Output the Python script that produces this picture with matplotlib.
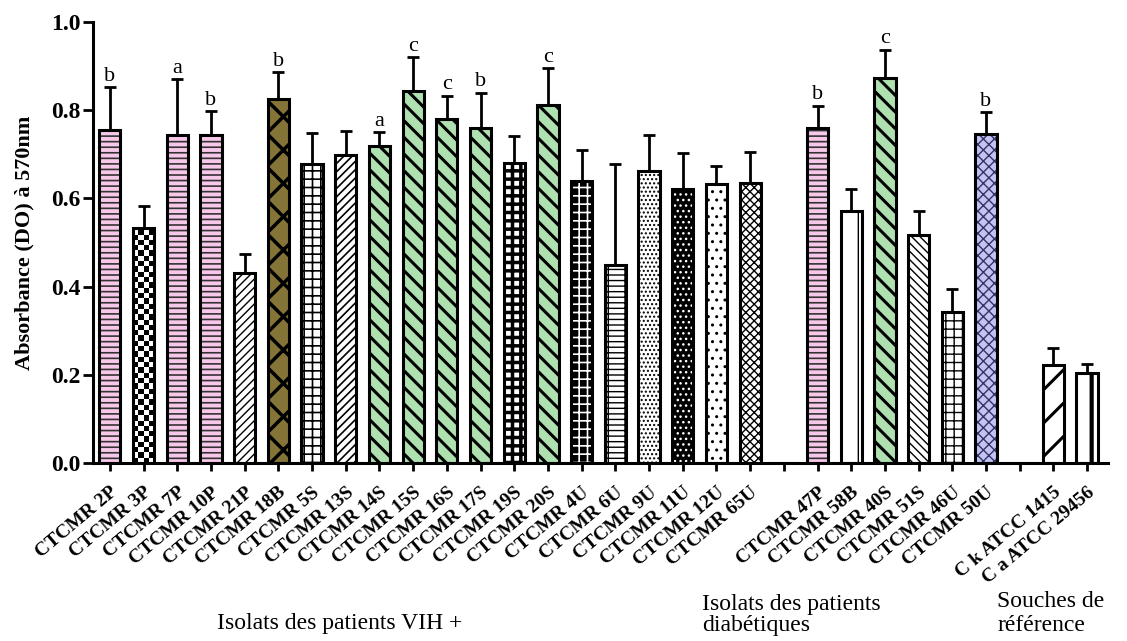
import numpy as np
import matplotlib
matplotlib.use("Agg")
import matplotlib.pyplot as plt

plt.rcParams["font.family"] = ["Liberation Serif", "DejaVu Serif"]

# data
hiv_names = ["CTCMR 2P", "CTCMR 3P", "CTCMR 7P", "CTCMR 10P", "CTCMR 21P",
             "CTCMR 18B", "CTCMR 5S", "CTCMR 13S", "CTCMR 14S", "CTCMR 15S",
             "CTCMR 16S", "CTCMR 17S", "CTCMR 19S", "CTCMR 20S", "CTCMR 4U",
             "CTCMR 6U", "CTCMR 9U", "CTCMR 11U", "CTCMR 12U", "CTCMR 65U"]
hiv_means = [0.755, 0.533, 0.744, 0.744, 0.430, 0.826, 0.678, 0.698, 0.719,
             0.844, 0.780, 0.760, 0.680, 0.812, 0.640, 0.449, 0.661, 0.621,
             0.632, 0.636]
hiv_errs = [0.098, 0.049, 0.126, 0.054, 0.044, 0.060, 0.071, 0.055, 0.031,
            0.077, 0.053, 0.080, 0.061, 0.084, 0.070, 0.230, 0.082, 0.082,
            0.042, 0.069]
hiv_letters = ["b", "", "a", "b", "", "b", "", "", "a", "c", "c", "b", "",
               "c", "", "", "", "", "", ""]

diab_names = ["CTCMR 47P", "CTCMR 58B", "CTCMR 40S", "CTCMR 51S",
              "CTCMR 46U", "CTCMR 50U"]
diab_means = [0.760, 0.572, 0.874, 0.517, 0.342, 0.745]
diab_errs = [0.050, 0.050, 0.063, 0.054, 0.052, 0.050]
diab_letters = ["b", "", "c", "", "", "b"]

ref_names = ["C k ATCC 1415", "C a ATCC 29456"]
ref_means = [0.222, 0.203]
ref_errs = [0.039, 0.022]
ref_letters = ["", ""]

# styles: (face colour, hatch, hatch colour, hatch width)
PINK = "#f8c8ea"
GREEN = "#aee0b0"
OLIVE = "#857437"
LAV = "#c3c3f3"
hiv_styles = [
    (PINK, "---", "#333333", 1.2),
    ("white", "checker", "black", 1.0),
    (PINK, "---", "#333333", 1.2),
    (PINK, "---", "#333333", 1.2),
    ("white", "////", "black", 1.0),
    (OLIVE, "x", "black", 2.5),
    ("white", "++", "black", 1.2),
    ("white", "////", "black", 1.2),
    (GREEN, "\\\\", "black", 2.2),
    (GREEN, "\\\\", "black", 2.2),
    (GREEN, "\\\\", "black", 2.2),
    (GREEN, "\\\\", "black", 2.2),
    ("white", "++", "black", 2.5),
    (GREEN, "\\\\", "black", 2.2),
    ("black", "++", "white", 1.2),
    ("white", "---|", "black", 1.0),
    ("white", "....", "black", 1.0),
    ("black", "...", "white", 1.0),
    ("white", "..", "black", 1.0),
    ("white", "xxxx", "black", 1.0),
]
diab_styles = [
    (PINK, "---", "#333333", 1.2),
    ("white", "|", "black", 1.0),
    (GREEN, "\\\\", "black", 2.2),
    ("white", "\\\\\\\\", "black", 1.0),
    ("white", "++", "black", 1.0),
    (LAV, "xxx", "#333366", 1.0),
]
ref_styles = [
    ("white", "/", "black", 2.2),
    ("white", "|", "black", 3.0),
]

groups = [(hiv_names, hiv_means, hiv_errs, hiv_letters, hiv_styles),
          (diab_names, diab_means, diab_errs, diab_letters, diab_styles),
          (ref_names, ref_means, ref_errs, ref_letters, ref_styles)]

fig = plt.figure(figsize=(11.27, 6.41), dpi=100)
ax = fig.add_axes([93 / 1127, 1 - 463 / 641, (1108 - 93) / 1127, (463 - 22) / 641])

width = 0.63
tick_pos, tick_lab = [], []
pos = 0
for gi, (names, means, errs, letters, styles) in enumerate(groups):
    if gi > 0:
        tick_pos.append(pos)
        tick_lab.append("")
        pos += 1
    for name, m, e, let, (fc, hatch, hc, hlw) in zip(names, means, errs, letters, styles):
        if hatch == "checker":
            fill = ax.bar(pos, m, width, color=fc, linewidth=0, zorder=1)[0]
            nrows = int(np.ceil(m / 0.012))
            board = (np.add.outer(np.arange(nrows), np.arange(4)) % 2).astype(float)
            im = ax.imshow(board, cmap="gray", extent=(pos - width / 2, pos + width / 2, 0, nrows * 0.012),
                           origin="lower", aspect="auto", interpolation="nearest", zorder=1.5)
            im.set_clip_path(fill)
        else:
            fill = ax.bar(pos, m, width, color=fc, edgecolor=hc, hatch=hatch,
                          linewidth=0, zorder=1)[0]
            if hasattr(fill, "set_hatch_linewidth"):
                fill.set_hatch_linewidth(hlw)
        ax.bar(pos, m, width, fill=False, edgecolor="black", linewidth=2.2, zorder=2)
        ax.errorbar(pos, m, yerr=[[0], [e]], fmt="none", ecolor="black",
                    elinewidth=2, capsize=4.5, capthick=2, zorder=3)
        if let:
            ax.text(pos, m + e + 0.003, let, ha="center", va="bottom", fontsize=16)
        tick_pos.append(pos)
        tick_lab.append(name)
        pos += 1

ax.set_xlim(-0.5, 29.62)
ax.set_ylim(0, 1.0)
ax.set_yticks(np.arange(0, 1.01, 0.2))
ax.set_yticklabels([f"{v:.1f}" for v in np.arange(0, 1.01, 0.2)],
                   fontsize=17, fontweight="bold")
ax.set_xticks(tick_pos)
ax.set_xticklabels(tick_lab, rotation=40, ha="right", rotation_mode="anchor",
                   fontsize=14, fontweight="bold")
ax.tick_params(axis="y", length=7, width=2, pad=2)
ax.tick_params(axis="x", length=6, width=2, pad=9)
ax.set_ylabel("Absorbance (DO) à 570nm", fontsize=16, fontweight="bold", labelpad=12)

for side in ["top", "right"]:
    ax.spines[side].set_visible(False)
for side in ["left", "bottom"]:
    ax.spines[side].set_linewidth(2.2)

fig.text(340 / 1127, 1 - 624 / 641, "Isolats des patients VIH +",
         ha="center", va="center", fontsize=17)
fig.text(702 / 1127, 1 - 594 / 641, "Isolats des patients\ndiabétiques",
         ha="left", va="top", fontsize=17, linespacing=1.0)
fig.text(997 / 1127, 1 - 591 / 641, "Souches de\nréférence",
         ha="left", va="top", fontsize=17, linespacing=1.2)

fig.savefig("out.png", dpi=100)
